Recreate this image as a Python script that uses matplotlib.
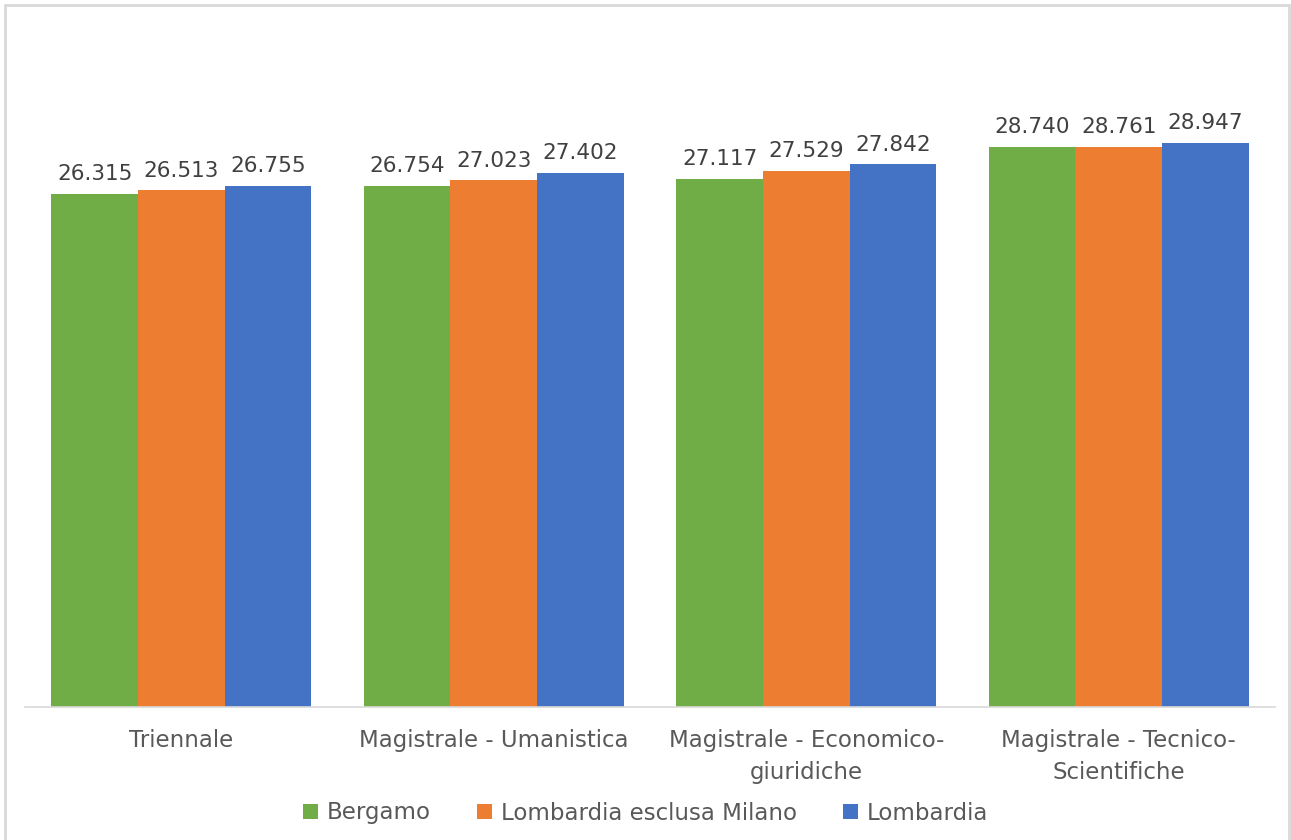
import matplotlib.pyplot as plt
from matplotlib.patches import Rectangle
import numpy as np

categories = ["Triennale", "Magistrale - Umanistica", "Magistrale - Economico-\ngiuridiche",
              "Magistrale - Tecnico-\nScientifiche"]
series = ["Bergamo", "Lombardia esclusa Milano", "Lombardia"]
bergamo = [26315, 26754, 27117, 28740]
lomb_no_mi = [26513, 27023, 27529, 28761]
lombardia = [26755, 27402, 27842, 28947]
colors = ["#70AD47", "#ED7D31", "#4472C4"]

plt.rcParams['font.family'] = ['DejaVu Sans']
text_col = "#595959"

W, H = 1291, 840
fig = plt.figure(figsize=(W / 100, H / 100), dpi=100)
ax = fig.add_axes([25 / W, (H - 707) / H, (1275 - 25) / W, (707 - 25) / H])

x = np.arange(len(categories))
bw = 0.277
for i, (vals, name, c) in enumerate(zip([bergamo, lomb_no_mi, lombardia], series, colors)):
    pos = x + (i - 1) * bw
    bars = ax.bar(pos, vals, bw, color=c, label=name)
    for b, v in zip(bars, vals):
        lbl = f"{v:,}".replace(",", ".")
        ax.text(b.get_x() + b.get_width() / 2, v + 500, lbl, ha="center", va="bottom",
                fontsize=15.5, color="#404040")

ax.set_xlim(-0.5, 3.5)
ax.set_ylim(0, 35000)
ax.set_yticks([])
ax.set_xticks(x)
ax.set_xticklabels(categories, fontsize=16.5, color=text_col, linespacing=1.5)
ax.tick_params(axis="x", length=0, pad=16)
for s in ["top", "right", "left"]:
    ax.spines[s].set_visible(False)
ax.spines["bottom"].set_color("#D9D9D9")
ax.spines["bottom"].set_linewidth(1.2)

leg = fig.legend(loc="center", bbox_to_anchor=(0.5, (H - 813) / H), ncol=3, frameon=False,
                 fontsize=16.5, handlelength=0.65, handleheight=0.65, handletextpad=0.4,
                 columnspacing=2.0)
for t in leg.get_texts():
    t.set_color(text_col)

fig.patches.append(Rectangle((5 / W, -0.01), (1289 - 5) / W, (H - 5) / H + 0.01,
                             transform=fig.transFigure, fill=False, edgecolor="#D9D9D9",
                             linewidth=2))

fig.savefig("out.png", dpi=100)
